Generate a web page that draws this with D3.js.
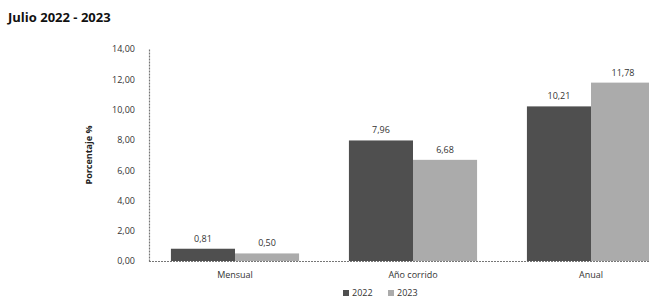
<!DOCTYPE html>
<html><head><meta charset="utf-8">
<script src="https://cdn.jsdelivr.net/npm/d3@7"></script>
<style>
body{margin:0;background:#fff;}
svg{display:block;font-family:"Open Sans",sans-serif;}
</style></head>
<body><svg id="c" width="649" height="302"></svg>
<script>
const categories = ["Mensual", "Año corrido", "Anual"];
const seriesNames = ["2022", "2023"];
const values2022 = [0.81, 7.96, 10.21];
const values2023 = [0.50, 6.68, 11.78];
const yTicks = [0, 2, 4, 6, 8, 10, 12, 14];
const colors = ["#4f4f4f", "#ababab"];

const svg = d3.select("#c");
const fmt = v => d3.format(".2f")(v).replace(".", ",");

const y = d3.scaleLinear().domain([0, 14]).range([261, 49]);
const x0 = d3.scaleBand().domain(categories).range([146, 680]).paddingInner(0.28).paddingOuter(0.14);
const x1 = d3.scaleBand().domain(seriesNames).range([0, x0.bandwidth()]).padding(0);

svg.append("text").attr("x", 8).attr("y", 22).attr("font-size", 13).attr("font-weight", "bold")
  .attr("fill", "#111").text("Julio 2022 - 2023");

// y axis
const yAxis = svg.append("g").attr("transform", "translate(149,0)")
  .call(d3.axisLeft(y).tickValues(yTicks).tickFormat(fmt).tickSize(0).tickPadding(14));
yAxis.select(".domain").attr("stroke", "#777").attr("stroke-width", 1.2).attr("stroke-dasharray", "2,1");
yAxis.selectAll("text").attr("font-size", 9).attr("fill", "#333").attr("font-family", "Open Sans, sans-serif");

svg.append("text").attr("transform", "translate(92,155) rotate(-90)").attr("text-anchor", "middle")
  .attr("font-size", 9).attr("font-weight", "bold").attr("fill", "#222").text("Porcentaje %");

const data = categories.map((c, i) => ({cat: c, vals: [values2022[i], values2023[i]]}));

const g = svg.selectAll("g.grp").data(data).enter().append("g").attr("class", "grp")
  .attr("transform", d => `translate(${x0(d.cat)},0)`);
g.selectAll("rect").data(d => d.vals.map((v, j) => ({s: seriesNames[j], v, j}))).enter().append("rect")
  .attr("x", d => x1(d.s)).attr("width", x1.bandwidth())
  .attr("y", d => y(d.v)).attr("height", d => y(0) - y(d.v))
  .attr("fill", d => colors[d.j]);
g.selectAll("text.val").data(d => d.vals.map((v, j) => ({s: seriesNames[j], v, j}))).enter().append("text")
  .attr("class", "val").attr("x", d => x1(d.s) + x1.bandwidth() / 2).attr("y", d => y(d.v) - 7)
  .attr("text-anchor", "middle").attr("font-size", 9).attr("fill", "#333").text(d => fmt(d.v));

// baseline
svg.append("line").attr("x1", 149).attr("x2", 649).attr("y1", y(0) + 0.5).attr("y2", y(0) + 0.5)
  .attr("stroke", "#777").attr("stroke-width", 1.2).attr("stroke-dasharray", "2,1");

// category labels
svg.selectAll("text.cat").data(categories).enter().append("text").attr("class", "cat")
  .attr("x", d => x0(d) + x0.bandwidth() / 2).attr("y", 278).attr("text-anchor", "middle")
  .attr("font-size", 9).attr("fill", "#333").text(d => d);

// legend
const leg = svg.append("g").attr("transform", "translate(343,296)");
seriesNames.forEach((s, i) => {
  const lg = leg.append("g").attr("transform", `translate(${i * 45},0)`);
  lg.append("rect").attr("x", 0).attr("y", -6).attr("width", 6).attr("height", 6).attr("fill", colors[i]);
  lg.append("text").attr("x", 9).attr("y", 0).attr("font-size", 9).attr("fill", "#333").text(s);
});
</script></body></html>
